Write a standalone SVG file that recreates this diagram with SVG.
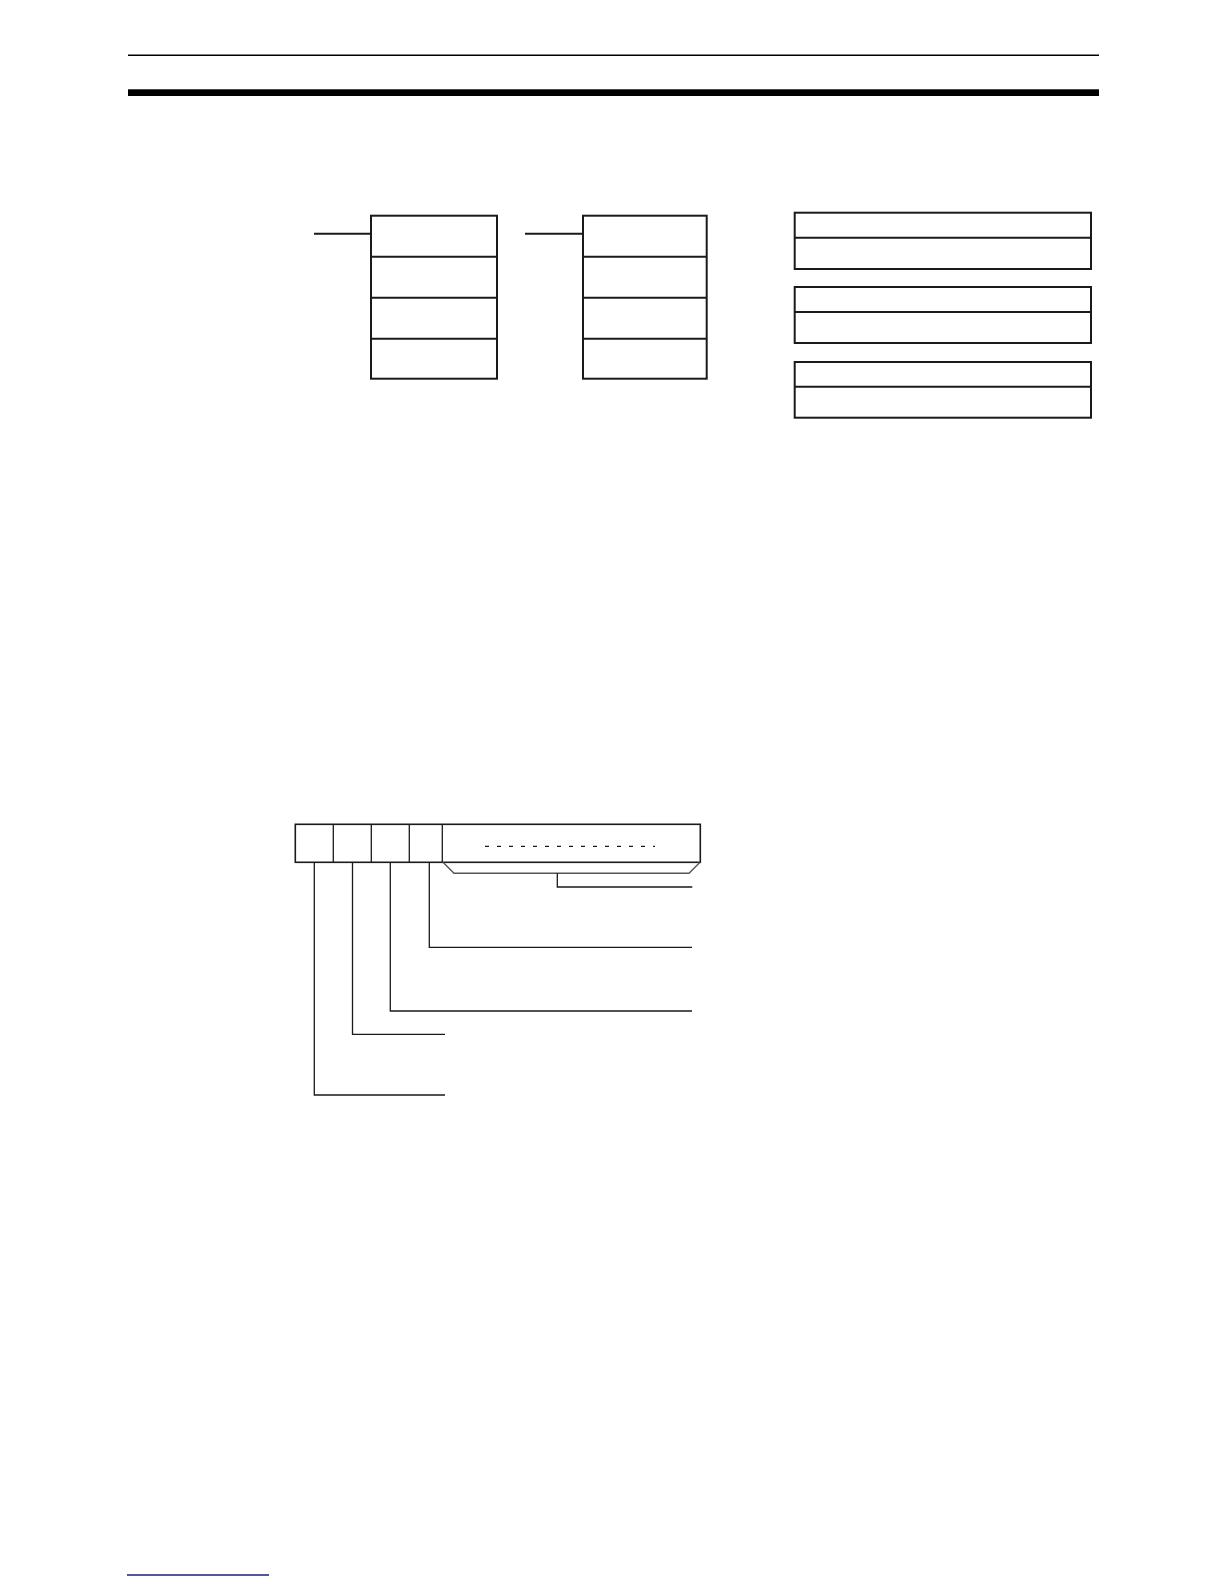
<svg xmlns="http://www.w3.org/2000/svg" width="1224" height="1584" viewBox="0 0 1224 1584">
<style>
.box{fill:none;stroke:#1a1a1a;stroke-width:2}
.div{stroke:#1a1a1a;stroke-width:2}
.lead{fill:none;stroke:#1a1a1a;stroke-width:1.3}
.brace{fill:none;stroke:#555;stroke-width:1.4}
</style>
<rect width="1224" height="1584" fill="#fff"/>
<g id="page-header">
<line x1="128" y1="55.3" x2="1099" y2="55.3" stroke="#000" stroke-width="1.4"/>
<rect x="128" y="89.3" width="971" height="6.7" fill="#000"/>
</g>
<g id="page-footer">
<line x1="127" y1="1575" x2="269" y2="1575" stroke="#1c1c7a" stroke-width="1.4"/>
</g>
<g id="block1">
<rect class="box" x="371" y="215.7" width="126" height="163"/>
<line class="div" x1="371" y1="256.7" x2="497" y2="256.7"/>
<line class="div" x1="371" y1="297.7" x2="497" y2="297.7"/>
<line class="div" x1="371" y1="338.7" x2="497" y2="338.7"/>
</g>
<g id="block2">
<rect class="box" x="583" y="215.7" width="123.7" height="163"/>
<line class="div" x1="583" y1="256.7" x2="706.7" y2="256.7"/>
<line class="div" x1="583" y1="297.7" x2="706.7" y2="297.7"/>
<line class="div" x1="583" y1="338.7" x2="706.7" y2="338.7"/>
</g>
<g id="boxA">
<rect class="box" x="794.7" y="212.7" width="296.3" height="56.3"/>
<line class="div" x1="794.7" y1="237.7" x2="1091" y2="237.7"/>
</g>
<g id="boxB">
<rect class="box" x="794.7" y="287" width="296.3" height="56"/>
<line class="div" x1="794.7" y1="312" x2="1091" y2="312"/>
</g>
<g id="boxC">
<rect class="box" x="794.7" y="362" width="296.3" height="55.7"/>
<line class="div" x1="794.7" y1="386.7" x2="1091" y2="386.7"/>
</g>
<g id="word">
<rect x="295.3" y="824.3" width="405" height="38" fill="none" stroke="#1a1a1a" stroke-width="1.6"/>
<line class="lead" x1="333.3" y1="824.3" x2="333.3" y2="862.3"/>
<line class="lead" x1="371.3" y1="824.3" x2="371.3" y2="862.3"/>
<line class="lead" x1="409.3" y1="824.3" x2="409.3" y2="862.3"/>
<line class="lead" x1="442.3" y1="824.3" x2="442.3" y2="862.3"/>
<line x1="485" y1="846.3" x2="655" y2="846.3" stroke="#1a1a1a" stroke-width="1.2" stroke-dasharray="4 8"/>
</g>
<g id="connectors">
<line class="div" x1="314" y1="233.7" x2="371" y2="233.7"/>
<line class="div" x1="525" y1="233.7" x2="583" y2="233.7"/>
<polyline class="brace" points="443,862.3 454,873.3 689,873.3 700,862.3"/>
<polyline class="lead" points="557.3,873.3 557.3,887 692.3,887"/>
<polyline class="lead" points="429.3,862.3 429.3,947.3 692,947.3"/>
<polyline class="lead" points="390.3,862.3 390.3,1011 692,1011"/>
<polyline class="lead" points="352.5,862.3 352.5,1034.3 445,1034.3"/>
<polyline class="lead" points="314.3,862.3 314.3,1095 445,1095"/>
</g>
</svg>
